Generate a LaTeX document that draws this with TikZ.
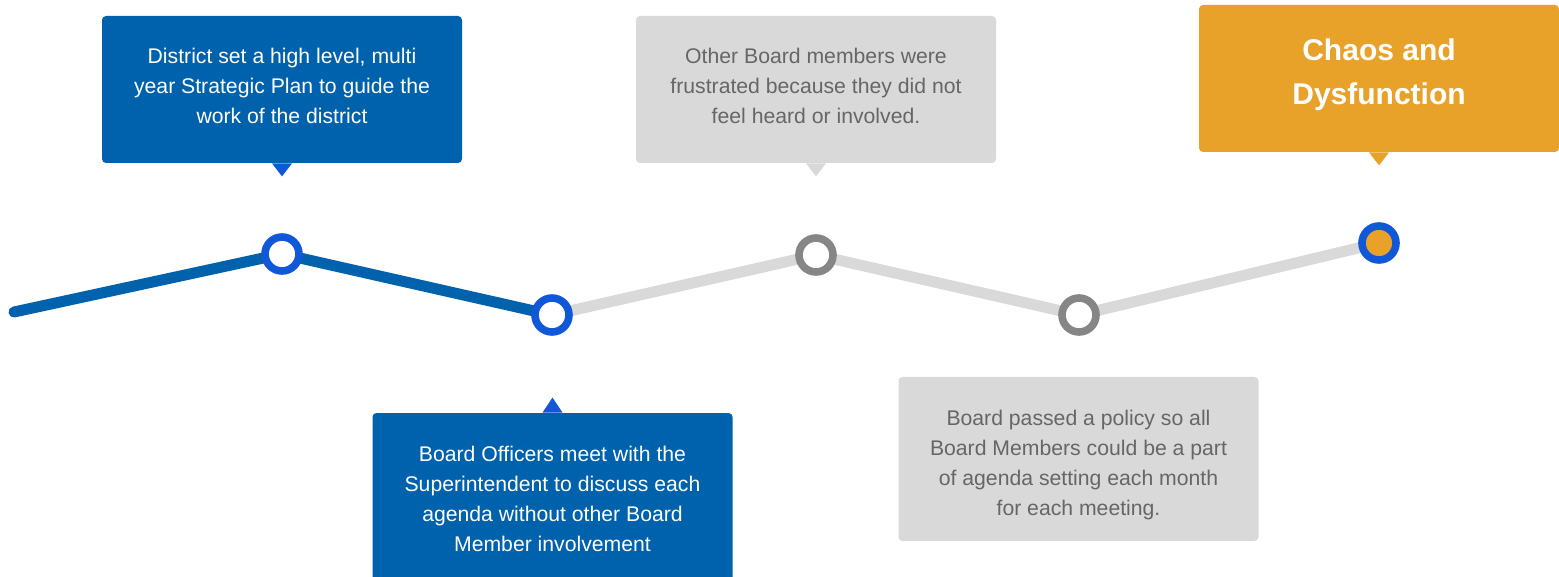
\documentclass[tikz,border=0pt]{standalone}
\usepackage{fontspec}
\setmainfont{Liberation Sans}
\usetikzlibrary{calc}
\definecolor{boxblue}{HTML}{0061AC}
\definecolor{ringblue}{HTML}{1158D8}
\definecolor{boxgray}{HTML}{D9D9D9}
\definecolor{ringgray}{HTML}{868686}
\definecolor{textgray}{HTML}{666666}
\definecolor{chaos}{HTML}{E8A22A}
\tikzset{
  card/.style={rounded corners=2pt, inner sep=0pt, minimum width=180pt},
  cardtext/.style={inner sep=0pt, align=center,
    font=\fontsize{10.6}{15}\selectfont},
  bluetext/.style={cardtext, text=white},
  graytext/.style={cardtext, text=textgray},
  chaostext/.style={cardtext, text=white,
    font=\fontsize{15}{22}\selectfont\bfseries},
  ring/.style={circle, minimum size=17pt, inner sep=0pt, line width=3.8pt,
    draw=ringblue, fill=white},
  grayring/.style={ring, draw=ringgray},
  track/.style={line width=5.5pt, line cap=round}
}
\begin{document}
\begin{tikzpicture}[x=0.5pt, y=-0.5pt]
  \useasboundingbox (0,0) rectangle (1559,577);
  % timeline points
  \coordinate (s) at (14,312);
  \coordinate (p1) at (282,254);
  \coordinate (p2) at (552,315);
  \coordinate (p3) at (816,255);
  \coordinate (p4) at (1079,315);
  \coordinate (p5) at (1379,243);
  \draw[track, boxblue] (s) -- (p1) -- (p2);
  \draw[track, boxgray] (p2) -- (p3) -- (p4) -- (p5);
  \node[ring] (c1) at (p1) {};
  \node[ring] (c2) at (p2) {};
  \node[grayring] (c3) at (p3) {};
  \node[grayring] (c4) at (p4) {};
  \node[ring, fill=chaos] (c5) at (p5) {};
  % cards
  \node[card, fill=boxblue, minimum height=73.5pt] (b1) at (282,89.5) {};
  \node[card, fill=boxgray, minimum height=73.5pt] (b2) at (816,89.5) {};
  \node[card, fill=chaos, minimum height=73.5pt] (b3) at (1379,78.5) {};
  \node[card, fill=boxblue, minimum height=86pt] (b4) at (552.5,499) {};
  \node[card, fill=boxgray, minimum height=82pt] (b5) at (1078.5,459) {};
  \node[bluetext] (t1) at (282,86)
    {District set a high level, multi\\year Strategic Plan to guide the\\work of the district};
  \node[graytext] (t2) at (816,86)
    {Other Board members were\\frustrated because they did not\\feel heard or involved.};
  \node[chaostext] (t3) at (1379,75)
    {Chaos and\\Dysfunction};
  \node[bluetext] (t4) at (552.5,499)
    {Board Officers meet with the\\Superintendent to discuss each\\agenda without other Board\\Member involvement};
  \node[graytext] (t5) at (1078.5,465)
    {Board passed a policy so all\\Board Members could be a part\\of agenda setting each month\\for each meeting.};
  % pointers
  \fill[ringblue] ($(b1.south)+(-10,0)$) -- ($(b1.south)+(10,0)$) -- ($(b1.south)+(0,13)$) -- cycle;
  \fill[boxgray] ($(b2.south)+(-10,0)$) -- ($(b2.south)+(10,0)$) -- ($(b2.south)+(0,13)$) -- cycle;
  \fill[chaos] ($(b3.south)+(-10,0)$) -- ($(b3.south)+(10,0)$) -- ($(b3.south)+(0,13)$) -- cycle;
  \fill[ringblue] ($(b4.north)+(-10,0)$) -- ($(b4.north)+(10,0)$) -- ($(b4.north)+(0,-15)$) -- cycle;
\end{tikzpicture}
\end{document}
